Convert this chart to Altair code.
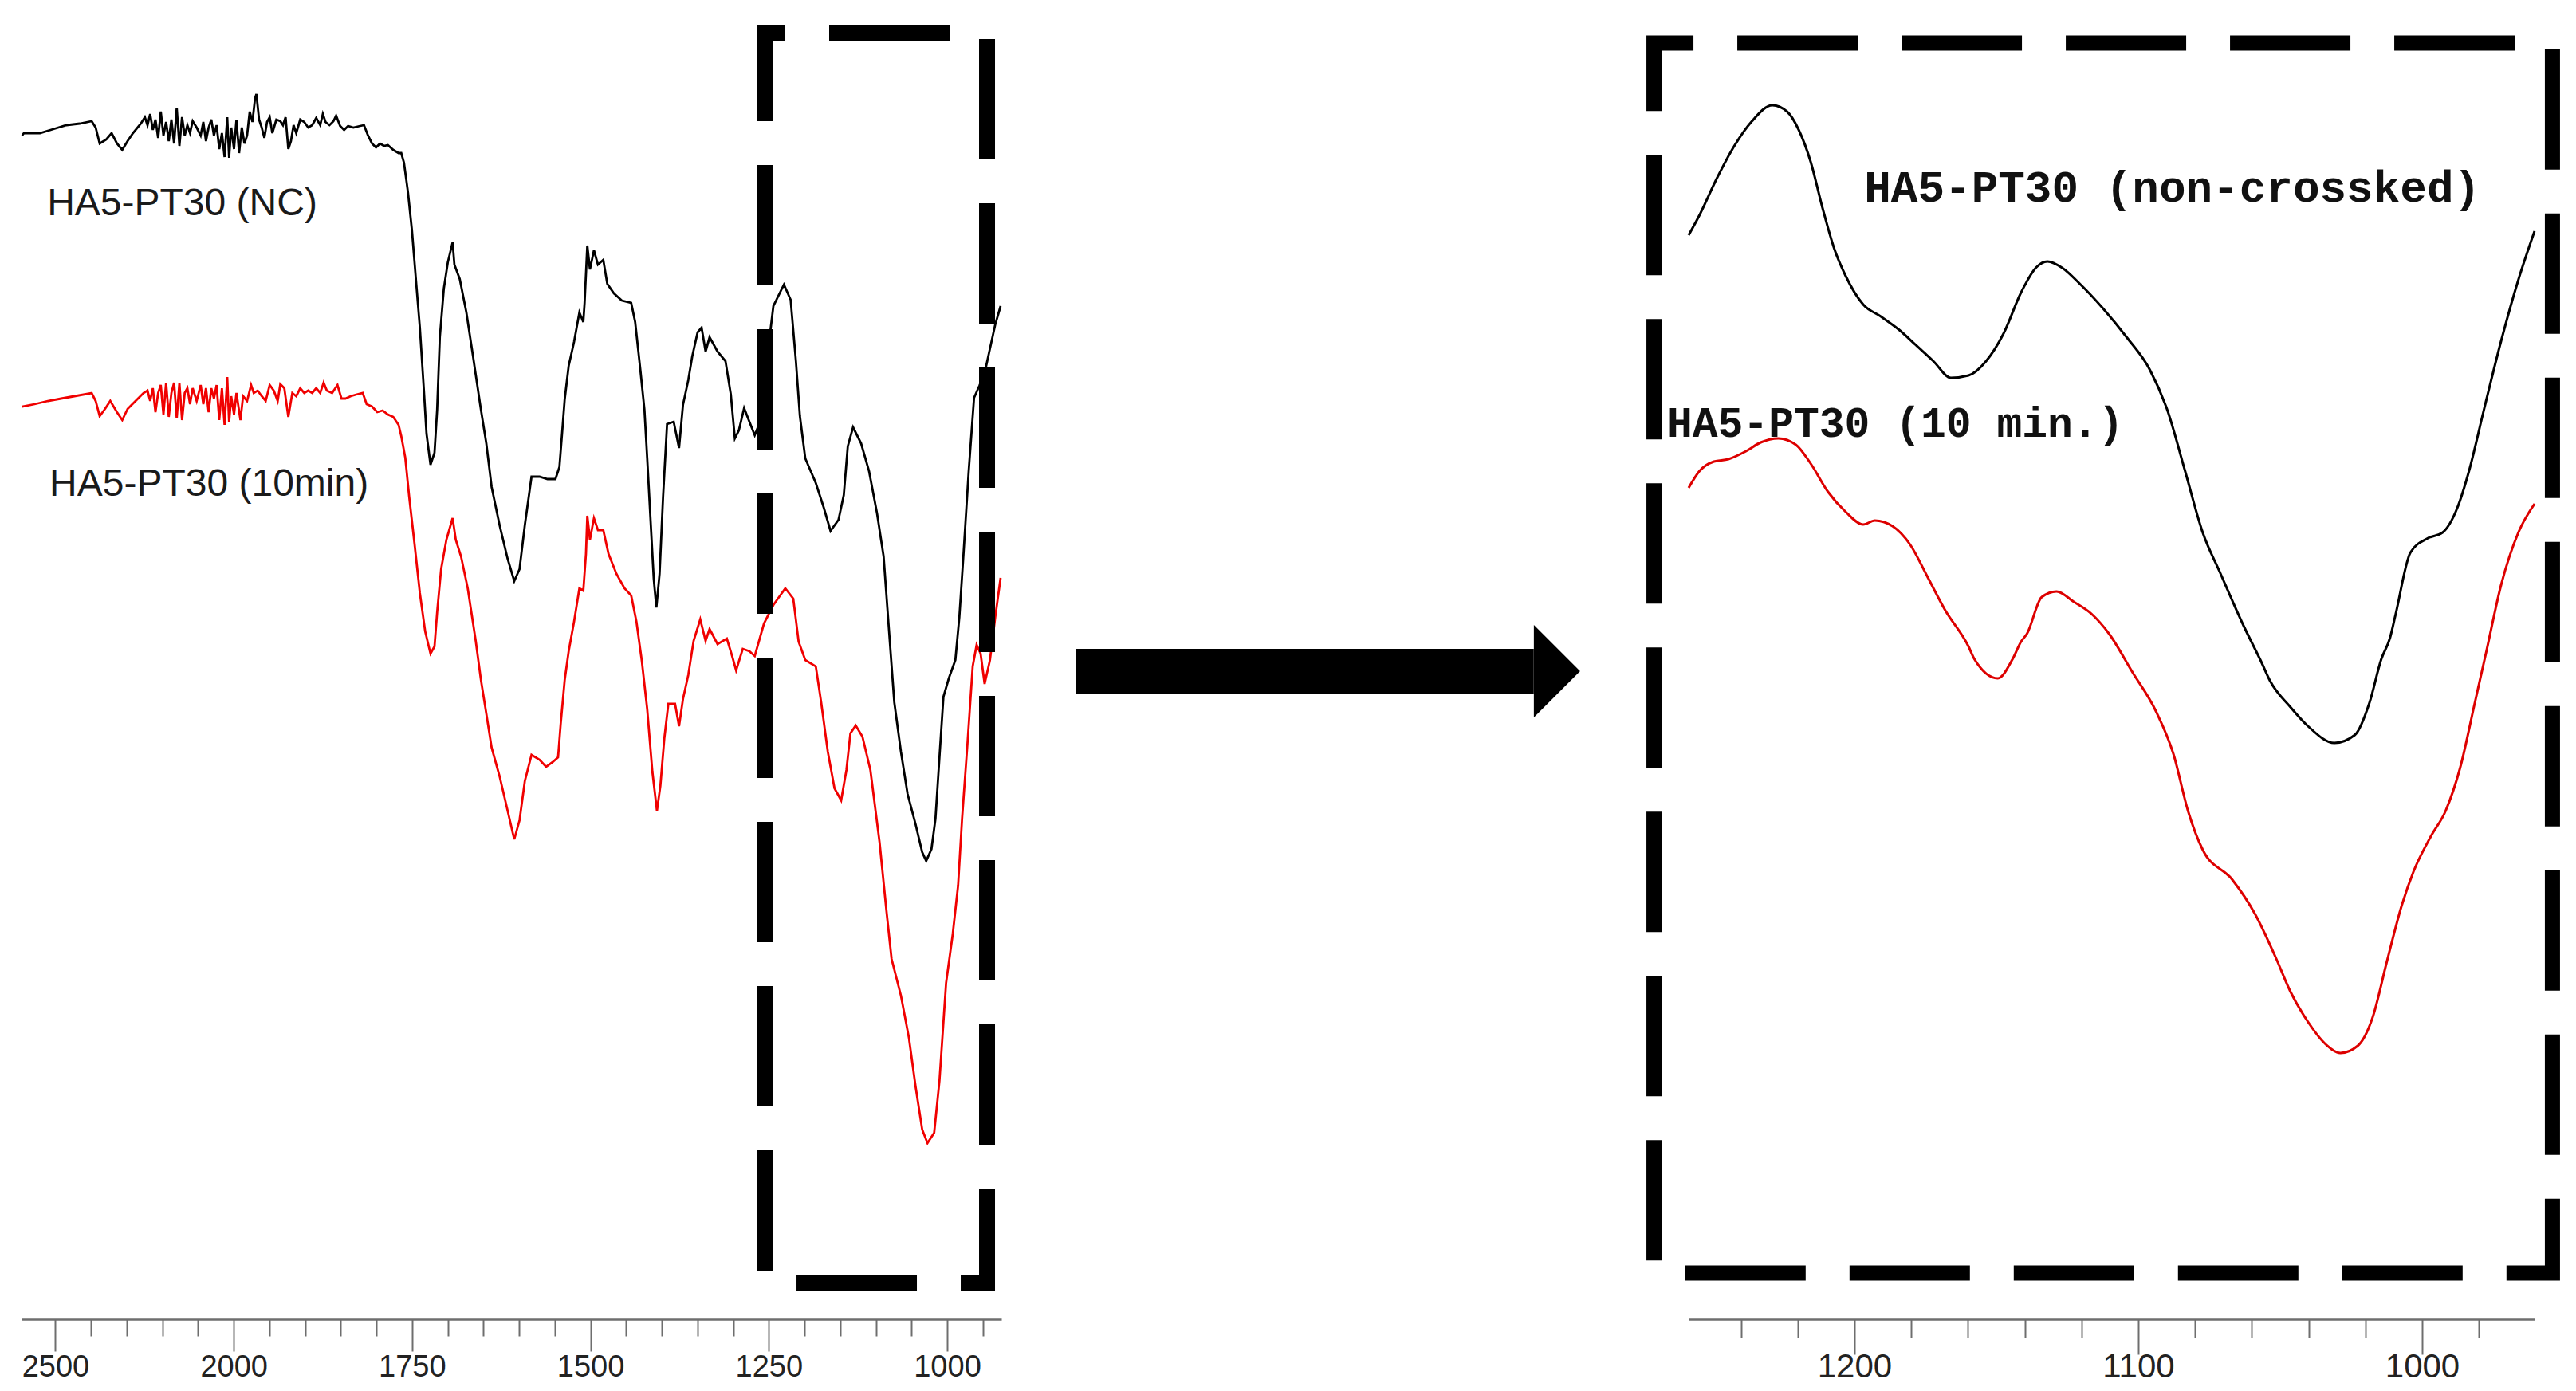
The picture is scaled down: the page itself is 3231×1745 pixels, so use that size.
import altair as alt
import pandas as pd

# ---------------- data ----------------
# Full-range FTIR spectra, wavenumber (cm-1) and transmittance (a.u.)
left_black_wn = [2593.3, 2588.1, 2543.4, 2506.1, 2469.0, 2431.7, 2398.2, 2387.0, 2375.8, 2357.3, 2342.3, 2327.3,
                 2312.6, 2297.6, 2282.6, 2260.3, 2249.1, 2241.7, 2234.3, 2226.8, 2219.4, 2211.9, 2204.5, 2197.0,
                 2189.6, 2182.1, 2174.7, 2167.2, 2159.8, 2152.3, 2144.9, 2137.4, 2130.0, 2122.5, 2115.1, 2103.9,
                 2092.7, 2085.3, 2077.8, 2070.4, 2062.9, 2055.5, 2048.0, 2040.6, 2033.1, 2025.7, 2018.2, 2013.0,
                 2007.1, 1999.6, 1996.2, 1992.5, 1988.7, 1985.0, 1981.3, 1977.6, 1973.8, 1970.1, 1968.2, 1964.5,
                 1960.8, 1957.1, 1953.3, 1949.6, 1945.9, 1940.3, 1934.7, 1931.0, 1927.3, 1923.5, 1919.8, 1916.1,
                 1912.4, 1906.8, 1901.2, 1895.6, 1890.0, 1884.4, 1878.8, 1875.1, 1871.4, 1865.8, 1860.2, 1856.5,
                 1850.9, 1845.3, 1839.7, 1832.3, 1823.0, 1817.4, 1811.8, 1806.2, 1800.6, 1795.0, 1789.4, 1783.9,
                 1776.4, 1768.9, 1765.2, 1761.4, 1755.8, 1750.2, 1744.7, 1739.1, 1733.5, 1729.8, 1724.2, 1718.6,
                 1714.9, 1711.1, 1705.5, 1699.9, 1693.2, 1690.7, 1683.2, 1673.9, 1664.6, 1653.5, 1646.0, 1638.5,
                 1627.3, 1616.1, 1606.8, 1599.4, 1592.0, 1582.6, 1571.4, 1560.2, 1549.1, 1543.5, 1539.8, 1536.1,
                 1530.5, 1523.0, 1515.5, 1510.0, 1508.2, 1504.4, 1500.7, 1495.1, 1489.5, 1482.0, 1476.4, 1467.1,
                 1456.0, 1442.9, 1437.3, 1429.9, 1424.3, 1420.5, 1415.0, 1411.3, 1407.6, 1403.1, 1398.2, 1392.6,
                 1383.3, 1375.8, 1370.3, 1362.9, 1357.3, 1349.8, 1344.2, 1338.6, 1333.0, 1321.9, 1310.7, 1303.2,
                 1297.6, 1292.0, 1284.6, 1277.2, 1269.7, 1262.3, 1252.9, 1243.6, 1228.8, 1219.4, 1212.0, 1206.4,
                 1198.9, 1184.1, 1172.9, 1163.5, 1152.3, 1144.9, 1139.3, 1131.9, 1120.7, 1109.5, 1098.3, 1089.1,
                 1081.6, 1074.1, 1064.8, 1055.5, 1044.3, 1035.0, 1029.4, 1022.0, 1016.4, 1010.8, 1005.2, 997.7,
                 988.5, 982.9, 977.3, 969.8, 962.3, 954.9, 947.5, 938.2, 932.6, 925.1]
left_black_T = [148.5, 148.8, 148.8, 149.3, 149.8, 150.0, 150.3, 149.5, 147.5, 148.0, 148.8, 147.5,
                146.7, 147.8, 148.8, 150.0, 150.8, 149.8, 151.2, 149.2, 150.5, 148.2, 151.5, 148.5,
                150.2, 147.8, 150.5, 147.5, 152.0, 147.2, 150.8, 148.5, 149.8, 148.8, 150.3, 149.5,
                148.5, 150.2, 147.8, 149.5, 150.5, 148.5, 149.8, 146.8, 148.8, 145.8, 150.8, 145.7,
                149.5, 146.8, 150.5, 146.3, 149.5, 147.5, 148.5, 151.5, 150.2, 153.2, 153.7, 150.5,
                149.5, 148.2, 150.2, 150.8, 148.8, 150.5, 150.3, 149.8, 150.8, 146.8, 147.8, 149.8,
                148.8, 150.5, 150.2, 149.5, 149.8, 150.7, 149.8, 151.2, 150.2, 149.8, 150.3, 151.0,
                149.7, 149.2, 149.7, 149.5, 149.7, 149.8, 148.5, 147.5, 147.0, 147.5, 147.2, 147.3,
                146.7, 146.3, 146.3, 145.1, 141.4, 136.6, 130.5, 124.4, 116.6, 111.1, 107.2, 108.7,
                114.1, 123.2, 129.3, 132.6, 135.1, 132.3, 130.5, 126.3, 120.8, 114.1, 109.9, 104.4,
                99.6, 95.4, 92.6, 94.1, 99.6, 105.7, 105.7, 105.4, 105.4, 106.9, 111.1, 115.4,
                119.6, 122.6, 126.3, 125.1, 127.5, 134.7, 131.7, 134.1, 132.3, 132.9, 129.9, 128.7,
                127.8, 127.5, 125.1, 119.0, 114.1, 108.1, 99.0, 92.9, 89.3, 93.5, 103.2, 112.3,
                112.6, 109.3, 114.7, 117.8, 120.8, 123.8, 124.4, 121.4, 123.2, 121.4, 120.2, 116.0,
                110.5, 111.5, 114.3, 112.6, 110.9, 112.6, 120.2, 127.1, 129.8, 127.9, 120.2, 113.3,
                108.0, 104.9, 101.8, 98.9, 100.3, 103.4, 109.5, 111.9, 109.9, 106.4, 101.1, 95.7,
                86.5, 77.4, 71.2, 65.9, 62.1, 58.6, 57.5, 59.0, 62.8, 70.5, 78.1, 80.4,
                82.7, 88.1, 95.7, 106.4, 115.6, 117.1, 118.7, 122.5, 124.8, 127.1]

left_red_wn = [2593.4, 2558.4, 2521.1, 2483.9, 2446.6, 2398.2, 2387.0, 2375.8, 2360.9, 2346.1, 2327.4, 2312.5,
               2297.6, 2275.2, 2252.9, 2241.7, 2234.3, 2226.8, 2219.4, 2211.9, 2204.5, 2197.0, 2189.6, 2182.1,
               2174.7, 2167.2, 2159.8, 2152.3, 2144.9, 2137.4, 2130.0, 2122.5, 2115.1, 2103.9, 2092.7, 2085.3,
               2077.8, 2070.4, 2062.9, 2055.5, 2048.0, 2040.6, 2033.1, 2025.7, 2018.2, 2013.0, 2007.1, 1999.6,
               1996.2, 1990.6, 1986.9, 1981.3, 1975.7, 1972.0, 1966.4, 1960.8, 1955.2, 1949.6, 1943.9, 1938.4,
               1934.7, 1929.1, 1923.5, 1917.9, 1912.4, 1906.8, 1901.2, 1895.6, 1890.0, 1884.4, 1878.8, 1874.0,
               1869.5, 1862.1, 1854.6, 1849.0, 1843.4, 1836.0, 1828.5, 1819.2, 1813.7, 1806.2, 1798.8, 1791.3,
               1783.9, 1776.4, 1768.9, 1765.2, 1759.6, 1754.1, 1746.5, 1739.1, 1731.7, 1724.2, 1718.6, 1714.9,
               1709.3, 1701.9, 1693.2, 1688.8, 1681.4, 1672.0, 1660.8, 1653.5, 1646.0, 1638.5, 1627.3, 1616.1,
               1606.8, 1599.4, 1592.0, 1582.6, 1571.4, 1562.1, 1552.9, 1545.4, 1541.7, 1536.1, 1530.5, 1523.0,
               1515.5, 1510.0, 1506.3, 1504.4, 1500.7, 1495.1, 1489.5, 1482.0, 1474.6, 1463.5, 1452.3, 1442.9,
               1435.5, 1428.0, 1420.5, 1413.2, 1406.8, 1402.0, 1396.4, 1390.8, 1381.4, 1375.8, 1370.3, 1362.9,
               1355.4, 1346.1, 1338.6, 1333.0, 1321.9, 1308.8, 1301.4, 1295.8, 1286.5, 1277.2, 1269.7, 1256.7,
               1243.6, 1226.9, 1215.7, 1208.2, 1198.9, 1184.1, 1176.6, 1167.3, 1157.9, 1148.6, 1141.2, 1135.6,
               1128.2, 1118.8, 1107.6, 1094.7, 1085.2, 1077.9, 1064.8, 1053.6, 1044.3, 1035.0, 1027.6, 1018.2,
               1010.8, 1001.5, 992.2, 984.7, 979.1, 971.7, 964.2, 958.7, 953.1, 947.5, 940.0, 932.6, 925.1]
left_red_T = [114.5, 114.8, 115.2, 115.5, 115.8, 116.2, 115.2, 113.3, 114.2, 115.2, 113.8, 112.8,
              114.2, 115.2, 116.2, 116.5, 115.2, 116.8, 113.8, 116.2, 117.2, 113.5, 117.5, 113.2,
              116.2, 117.5, 113.0, 117.5, 112.8, 116.2, 116.8, 114.8, 116.8, 115.2, 117.2, 114.8,
              116.8, 113.8, 116.8, 115.5, 117.2, 112.8, 116.8, 112.2, 118.2, 112.5, 115.8, 113.5,
              116.2, 112.8, 115.8, 115.2, 117.2, 116.2, 116.5, 115.8, 115.2, 117.2, 116.5, 115.2,
              117.3, 116.8, 113.2, 116.2, 115.8, 116.8, 116.2, 116.5, 116.2, 116.8, 116.2, 117.5,
              116.5, 116.2, 117.2, 115.5, 115.5, 115.8, 116.0, 116.2, 114.8, 114.5, 113.8, 114.0,
              113.5, 113.2, 112.2, 110.8, 108.1, 103.2, 97.2, 91.1, 86.3, 83.5, 84.4, 88.7,
              94.1, 97.8, 100.5, 97.8, 95.7, 91.7, 85.1, 80.2, 76.0, 71.7, 68.1, 63.8,
              60.2, 62.6, 67.5, 70.8, 70.2, 69.3, 69.9, 70.5, 74.7, 80.2, 83.8, 87.5,
              91.7, 91.4, 96.0, 100.8, 97.8, 100.5, 99.0, 99.0, 96.0, 93.5, 91.7, 90.8,
              87.5, 82.6, 76.6, 68.7, 63.8, 66.9, 72.9, 77.2, 77.2, 74.4, 77.8, 80.8,
              85.1, 87.8, 85.1, 86.6, 84.7, 85.4, 83.2, 81.4, 84.1, 83.8, 83.2, 87.3,
              89.6, 91.7, 90.4, 85.0, 82.7, 81.9, 77.4, 71.2, 66.6, 65.1, 68.9, 73.5,
              74.5, 73.1, 68.9, 59.8, 51.3, 45.2, 40.6, 35.3, 29.2, 23.8, 22.1, 23.4,
              29.9, 42.2, 48.3, 54.4, 62.8, 72.0, 81.9, 84.6, 83.5, 79.7, 82.7, 88.1, 93.0]

# Zoomed 1260-960 cm-1 region
zoom_black_wn = [1258.4, 1254.6, 1248.5, 1242.3, 1236.1, 1228.9, 1223.7, 1219.6, 1215.4, 1211.3, 1207.2, 1203.1,
                 1196.9, 1190.7, 1184.5, 1178.3, 1172.2, 1166.0, 1159.8, 1153.6, 1147.4, 1141.3, 1136.1, 1132.0,
                 1126.8, 1120.6, 1112.4, 1104.1, 1095.9, 1089.7, 1083.5, 1077.3, 1071.1, 1062.9, 1056.7, 1053.6,
                 1046.4, 1040.2, 1030.9, 1023.7, 1018.5, 1014.4, 1011.3, 1009.3, 1004.1, 997.9, 992.8, 987.6,
                 983.5, 978.3, 972.2, 966.1, 960.4]
zoom_black_T = [136.0, 138.5, 143.1, 147.2, 150.3, 152.3, 151.5, 149.2, 145.2, 139.5, 134.4, 130.9,
                127.3, 125.8, 124.2, 122.2, 120.2, 118.1, 118.4, 120.2, 123.7, 128.8, 131.9, 132.7,
                131.9, 129.9, 126.8, 123.2, 119.1, 114.0, 106.4, 98.7, 93.6, 87.0, 82.5, 80.1,
                76.8, 74.4, 72.3, 73.3, 77.4, 82.8, 85.5, 88.5, 96.2, 98.0, 98.7, 101.8,
                106.4, 114.0, 122.7, 130.4, 136.5]
zoom_red_wn = [1258.4, 1254.6, 1249.5, 1244.4, 1238.2, 1233.0, 1226.8, 1220.6, 1215.5, 1209.3, 1203.1, 1196.9,
               1192.8, 1186.6, 1180.4, 1174.2, 1168.1, 1159.8, 1157.7, 1149.5, 1144.3, 1141.3, 1139.2, 1134.0,
               1128.8, 1122.7, 1116.5, 1110.3, 1102.1, 1093.8, 1087.6, 1082.5, 1077.3, 1067.0, 1058.8, 1051.6,
               1046.4, 1040.2, 1034.0, 1028.8, 1022.7, 1017.5, 1012.4, 1007.2, 1003.0, 996.9, 991.7, 986.6,
               981.4, 977.3, 972.2, 966.1, 960.4]
zoom_red_T = [104.3, 106.4, 107.6, 107.9, 108.9, 110.0, 110.5, 109.7, 107.4, 103.8, 101.3, 99.7,
              100.2, 99.5, 97.2, 93.1, 89.0, 84.4, 82.8, 80.4, 82.8, 85.0, 86.0, 90.6,
              91.3, 90.0, 88.5, 86.0, 81.2, 76.3, 70.9, 63.8, 58.9, 55.2, 50.8, 45.4,
              41.1, 37.3, 34.5, 33.4, 34.3, 37.8, 44.9, 51.9, 56.2, 60.6, 63.8, 69.2,
              77.4, 83.9, 92.1, 98.7, 102.3]

# Series labels
left_labels = ["HA5-PT30 (NC)", "HA5-PT30 (10min)"]
left_label_wn = [2523.0, 2516.6]
left_label_T = [138.5, 103.3]
zoom_labels = ["HA5-PT30 (non-crossked)", "HA5-PT30 (10 min.)"]
zoom_label_wn = [1088.0, 1185.6]
zoom_label_T = [140.2, 110.7]
zoom_label_size = [56, 53]

# Zoom-window boxes (wavenumber range, transmittance range)
left_box_wn = [1255.9, 944.1]
left_box_T = [161.4, 4.6]
right_box_wn = [1270.6, 954.1]
right_box_T = [160.1, 5.8]

# Axis ticks (cm-1)
left_major_wn = [2500, 2000, 1750, 1500, 1250, 1000]
left_minor_wn = [2400, 2300, 2200, 2100, 1950, 1900, 1850, 1800, 1700, 1650, 1600, 1550,
                 1450, 1400, 1350, 1300, 1200, 1150, 1100, 1050, 950]
zoom_major_wn = [1200, 1100, 1000]
zoom_minor_wn = [1240, 1220, 1180, 1160, 1140, 1120, 1080, 1060, 1040, 1020, 980, 960]

# Arrow (relative position along the gap between the panels)
arrow_shaft = [0.0, 0.908]
arrow_head_pos = 0.954
arrow_T = [84.1, 78.5]
arrow_mid_T = 81.3


# --------------- helpers ---------------
def brk(w):
    """Instrument axis: the scale is compressed 2x above 2000 cm-1."""
    return 2000 + (w - 2000) / 2 if w > 2000 else w


def line_df(wn, t):
    return pd.DataFrame({"wn": wn, "T": t, "u": [brk(w) for w in wn]})


GRAY = "#6e6e6e"
y_scale = alt.Scale(domain=[0, 164.7], nice=False, zero=False)
Y = alt.Y("T:Q", scale=y_scale, axis=None)

# ---------------- left (full spectrum) ----------------
left_scale = alt.Scale(domain=[2297, 924], range=[19.4, 1248], nice=False, zero=False)
left_minor_axis = alt.Axis(values=[brk(w) for w in left_minor_wn], orient="bottom", labels=False,
                           domain=False, tickSize=21, tickWidth=2, tickColor=GRAY, grid=False, title=None)
left_major_axis = alt.Axis(values=[brk(w) for w in left_major_wn], orient="bottom",
                           labelExpr="datum.value > 2000 ? format(2 * datum.value - 2000, 'd') : format(datum.value, 'd')",
                           domain=True, domainColor=GRAY, domainWidth=2.5, tickSize=40, tickWidth=2,
                           tickColor=GRAY, labelFont="Liberation Sans Narrow, Arial Narrow, Liberation Sans",
                           labelFontSize=38, labelColor="#222222", labelPadding=1, labelFlush=False,
                           labelOverlap=False, grid=False, title=None)

lb = alt.Chart(line_df(left_black_wn, left_black_T)).mark_line(color="#000000", strokeWidth=2.8).encode(
    x=alt.X("u:Q", scale=left_scale, axis=left_minor_axis), y=Y)
lr = alt.Chart(line_df(left_red_wn, left_red_T)).mark_line(color="#f00000", strokeWidth=2.8).encode(
    x=alt.X("u:Q", scale=left_scale, axis=left_major_axis), y=Y)
lt_df = pd.DataFrame({"label": left_labels, "T": left_label_T, "u": [brk(w) for w in left_label_wn]})
lt = alt.Chart(lt_df).mark_text(align="left", baseline="alphabetic", font="Liberation Sans, Arial",
                                fontSize=48, color="#1a1a1a").encode(
    x=alt.X("u:Q", scale=left_scale, axis=None), y=Y, text="label:N")
lbox_df = pd.DataFrame({"u1": [brk(left_box_wn[0])], "u2": [brk(left_box_wn[1])],
                        "T1": [left_box_T[0]], "T2": [left_box_T[1]]})
lbox = alt.Chart(lbox_df).mark_rect(fillOpacity=0, stroke="#000000", strokeWidth=20,
                                    strokeDash=[151, 55], strokeDashOffset=125).encode(
    x=alt.X("u1:Q", scale=left_scale, axis=None), x2="u2:Q",
    y=alt.Y("T1:Q", scale=y_scale, axis=None), y2="T2:Q")
left_group = alt.layer(lb, lr, lt, lbox).resolve_axis(x="independent")

# ---------------- right (zoom) ----------------
zoom_scale = alt.Scale(domain=[1258.4, 960.4], range=[2110, 3171], nice=False, zero=False)
zoom_minor_axis = alt.Axis(values=zoom_minor_wn, orient="bottom", labels=False, domain=False,
                           tickSize=23, tickWidth=2, tickColor=GRAY, grid=False, title=None)
zoom_major_axis = alt.Axis(values=zoom_major_wn, orient="bottom", labelExpr="format(datum.value, 'd')",
                           domain=True, domainColor=GRAY, domainWidth=2.5, tickSize=44, tickWidth=2,
                           tickColor=GRAY, labelFont="Liberation Sans, Arial", labelFontSize=42,
                           labelColor="#222222", labelPadding=-5, labelFlush=False, labelOverlap=False,
                           grid=False, title=None)
zb = alt.Chart(pd.DataFrame({"wn": zoom_black_wn, "T": zoom_black_T})).mark_line(
    color="#000000", strokeWidth=3, interpolate="monotone").encode(
    x=alt.X("wn:Q", scale=zoom_scale, axis=zoom_minor_axis), y=Y)
zr = alt.Chart(pd.DataFrame({"wn": zoom_red_wn, "T": zoom_red_T})).mark_line(
    color="#dd0000", strokeWidth=3, interpolate="monotone").encode(
    x=alt.X("wn:Q", scale=zoom_scale, axis=zoom_major_axis), y=Y)
zt = alt.Chart(pd.DataFrame({"label": zoom_labels, "wn": zoom_label_wn, "T": zoom_label_T,
                             "fs": zoom_label_size})).mark_text(
    align="center", baseline="alphabetic", font="Liberation Mono, DejaVu Sans Mono", fontWeight="bold",
    color="#111111").encode(
    x=alt.X("wn:Q", scale=zoom_scale, axis=None), y=Y, text="label:N",
    size=alt.Size("fs:Q", scale=None, legend=None))
rbox_df = pd.DataFrame({"w1": [right_box_wn[0]], "w2": [right_box_wn[1]],
                        "T1": [right_box_T[0]], "T2": [right_box_T[1]]})
rbox = alt.Chart(rbox_df).mark_rect(fillOpacity=0, stroke="#000000", strokeWidth=19,
                                    strokeDash=[151, 55], strokeDashOffset=101.5).encode(
    x=alt.X("w1:Q", scale=zoom_scale, axis=None), x2="w2:Q",
    y=alt.Y("T1:Q", scale=y_scale, axis=None), y2="T2:Q")
right_group = alt.layer(zb, zr, zt, rbox).resolve_axis(x="independent")

# ---------------- arrow ----------------
arrow_scale = alt.Scale(domain=[0, 1], range=[1341, 1974], nice=False, zero=False)
shaft = alt.Chart(pd.DataFrame({"a0": [arrow_shaft[0]], "a1": [arrow_shaft[1]],
                                "T1": [arrow_T[0]], "T2": [arrow_T[1]]})).mark_rect(color="#000000").encode(
    x=alt.X("a0:Q", scale=arrow_scale, axis=None), x2="a1:Q",
    y=alt.Y("T1:Q", scale=y_scale, axis=None), y2="T2:Q")
head = alt.Chart(pd.DataFrame({"a": [arrow_head_pos], "T": [arrow_mid_T]})).mark_point(
    shape="M-0.5,-1L0.5,0L-0.5,1Z", size=13456, filled=True, color="#000000", opacity=1, strokeWidth=0).encode(
    x=alt.X("a:Q", scale=arrow_scale, axis=None), y=Y)
arrow_group = alt.layer(shaft, head)

chart = alt.layer(left_group, right_group, arrow_group).resolve_scale(x="independent").properties(
    width=3215, height=1647,
    padding={"left": 0, "top": 0, "right": 0, "bottom": 82},
    autosize=alt.AutoSizeParams(type="none"),
    background="white",
).configure_view(stroke=None)

chart.save("out.html", embed_options={"renderer": "svg", "actions": False})
